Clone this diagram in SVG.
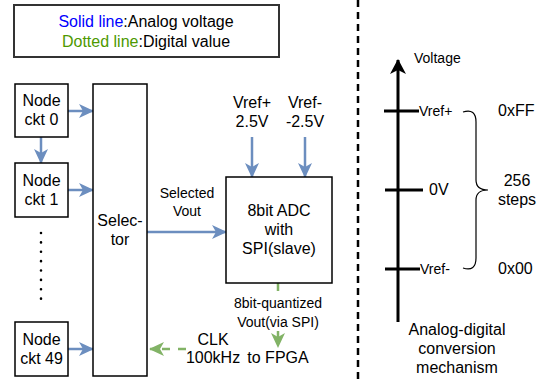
<svg xmlns="http://www.w3.org/2000/svg" width="550" height="381" viewBox="0 0 550 381">
  <style>
    text { font-family: "Liberation Sans", Arial, sans-serif; fill: #000; }
    .t16 { font-size: 16px; }
    .t14 { font-size: 14px; }
    .mid { text-anchor: middle; }
    .box { fill: #fff; stroke: #000; stroke-width: 1.5; }
    .analog { stroke: #6c8ebf; stroke-width: 2.5; fill: none; marker-end: url(#headBlue); }
    .digital { stroke: #82b366; stroke-width: 2.5; fill: none; stroke-dasharray: 8 8; marker-end: url(#headGreen); }
  </style>
  <defs>
    <marker id="headBlue" markerUnits="userSpaceOnUse" viewBox="0 0 15 14" markerWidth="15" markerHeight="14" refX="14" refY="7" orient="auto">
      <path d="M0,0 L15,7 L0,14 L4,7 Z" fill="#6c8ebf"/>
    </marker>
    <marker id="headGreen" markerUnits="userSpaceOnUse" viewBox="0 0 15 14" markerWidth="15" markerHeight="14" refX="14" refY="7" orient="auto">
      <path d="M0,0 L15,7 L0,14 L4,7 Z" fill="#82b366"/>
    </marker>
    <marker id="headBlack" markerUnits="userSpaceOnUse" viewBox="0 0 15 16" markerWidth="15" markerHeight="16" refX="14" refY="8" orient="auto">
      <path d="M0,0 L15,8 L0,16 L4,8 Z" fill="#000"/>
    </marker>
  </defs>

  <!-- legend -->
  <g id="legend">
    <rect x="14" y="5" width="265" height="52" fill="#fff" stroke="#333" stroke-width="2"/>
    <text class="t16 mid" x="146" y="27"><tspan fill="#0000ff">Solid line</tspan>:Analog voltage</text>
    <text class="t16 mid" x="146" y="47"><tspan fill="#4d9900">Dotted line</tspan>:Digital value</text>
  </g>

  <!-- connectors -->
  <g id="connectors">
    <line class="analog" x1="68" y1="111" x2="93" y2="111"/>
    <line class="analog" x1="68" y1="190" x2="93" y2="190"/>
    <line class="analog" x1="68" y1="349" x2="93" y2="349"/>
    <line class="analog" x1="41" y1="137" x2="41" y2="163"/>
    <line class="analog" x1="147" y1="232" x2="226" y2="232"/>
    <line class="analog" x1="252" y1="137" x2="252" y2="177"/>
    <line class="analog" x1="305" y1="137" x2="305" y2="177"/>
    <line class="digital" x1="186" y1="349" x2="150" y2="349"/>
    <line class="digital" x1="278" y1="283" x2="278" y2="347"/>
  </g>

  <!-- node circuits -->
  <g id="node0">
    <rect class="box" x="15" y="84" width="53" height="53"/>
    <text class="t16 mid" x="41.5" y="106">Node</text>
    <text class="t16 mid" x="41.5" y="125">ckt 0</text>
  </g>
  <g id="node1">
    <rect class="box" x="15" y="163" width="53" height="54"/>
    <text class="t16 mid" x="41.5" y="186">Node</text>
    <text class="t16 mid" x="41.5" y="205">ckt 1</text>
  </g>
  <g id="ellipsis">
    <line x1="41" y1="233" x2="41" y2="308" stroke="#000" stroke-width="2.6" stroke-linecap="round" stroke-dasharray="0 9.375"/>
  </g>
  <g id="node49">
    <rect class="box" x="15" y="322" width="53" height="54"/>
    <text class="t16 mid" x="41.5" y="345">Node</text>
    <text class="t16 mid" x="41.5" y="364">ckt 49</text>
  </g>

  <!-- selector -->
  <g id="selector">
    <rect class="box" x="93" y="84" width="54" height="292"/>
    <text class="t16 mid" x="120" y="226">Selec-</text>
    <text class="t16 mid" x="120" y="245">tor</text>
  </g>

  <g id="selectedVoutLabel">
    <text class="t14 mid" x="187" y="198">Selected</text>
    <text class="t14 mid" x="187" y="216">Vout</text>
  </g>

  <!-- reference voltages -->
  <g id="vrefPlus">
    <text class="t16 mid" x="252" y="108">Vref+</text>
    <text class="t16 mid" x="252" y="127">2.5V</text>
  </g>
  <g id="vrefMinus">
    <text class="t16 mid" x="305" y="108">Vref-</text>
    <text class="t16 mid" x="305" y="127">-2.5V</text>
  </g>

  <!-- ADC -->
  <g id="adc">
    <rect class="box" x="226" y="177" width="106" height="106"/>
    <text class="t16 mid" x="279" y="216">8bit ADC</text>
    <text class="t16 mid" x="279" y="235">with</text>
    <text class="t16 mid" x="279" y="254">SPI(slave)</text>
  </g>

  <g id="spiLabel">
    <rect x="230" y="295" width="96" height="36" fill="#fff"/>
    <text class="t14 mid" x="278" y="308">8bit-quantized</text>
    <text class="t14 mid" x="278" y="327">Vout(via SPI)</text>
  </g>

  <g id="fpga">
    <text class="t16 mid" x="278" y="363">to FPGA</text>
  </g>

  <g id="clk">
    <text class="t16 mid" x="213" y="345">CLK</text>
    <text class="t16 mid" x="213" y="363">100kHz</text>
  </g>

  <!-- divider -->
  <line x1="358" y1="0" x2="358" y2="381" stroke="#000" stroke-width="2.5" stroke-dasharray="7 5"/>

  <!-- conversion mechanism -->
  <g id="mechanism">
    <line x1="398" y1="322" x2="398" y2="60" stroke="#000" stroke-width="3" marker-end="url(#headBlack)"/>
    <text class="t14" x="414" y="63">Voltage</text>
    <line x1="384" y1="111" x2="419" y2="111" stroke="#000" stroke-width="3"/>
    <line x1="385" y1="190" x2="423" y2="190" stroke="#000" stroke-width="3"/>
    <line x1="385" y1="269" x2="420" y2="269" stroke="#000" stroke-width="3"/>
    <text class="t14" x="419" y="116">Vref+</text>
    <text class="t16" x="429" y="195">0V</text>
    <text class="t14" x="420" y="274">Vref-</text>
    <path d="M463,112 Q476,108 476,122 L476,180 Q476,190 488,190 Q476,190 476,200 L476,258 Q476,272 463,268" fill="none" stroke="#000" stroke-width="1.2"/>
    <text class="t16" x="498" y="116">0xFF</text>
    <text class="t16" x="498" y="274">0x00</text>
    <text class="t16 mid" x="517" y="186">256</text>
    <text class="t16 mid" x="517" y="205">steps</text>
    <text class="t16 mid" x="457" y="335">Analog-digital</text>
    <text class="t16 mid" x="457" y="354">conversion</text>
    <text class="t16 mid" x="457" y="373">mechanism</text>
  </g>
</svg>
